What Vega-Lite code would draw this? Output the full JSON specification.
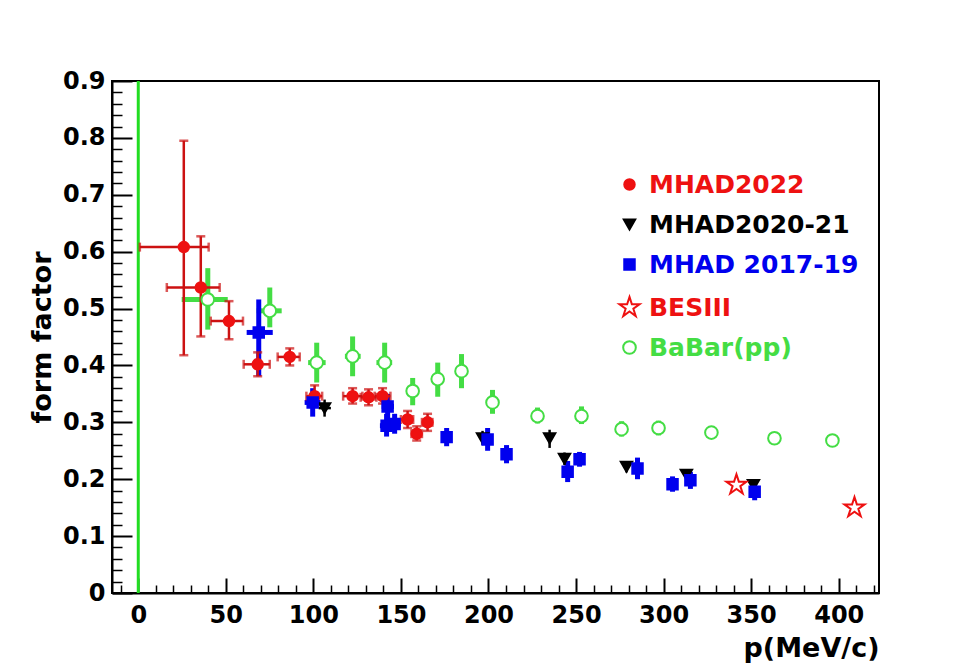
{
  "$schema": "https://vega.github.io/schema/vega-lite/v6.json",
  "width": 767,
  "height": 512,
  "autosize": "none",
  "padding": {"left": 112, "top": 81, "right": 91, "bottom": 75},
  "background": "white",
  "config": {"view": {"stroke": "black", "strokeWidth": 2}},
  "data": {"values": [
    {"s":"BaBar(pp)","p":39.7,"ff":0.516,"plo":24.8,"phi":51.1,"flo":0.463,"fhi":0.571},
    {"s":"BaBar(pp)","p":75.1,"ff":0.496,"plo":67.6,"phi":81.9,"flo":0.467,"fhi":0.537},
    {"s":"BaBar(pp)","p":101.9,"ff":0.405,"plo":97,"phi":107,"flo":0.37,"fhi":0.44},
    {"s":"BaBar(pp)","p":122.4,"ff":0.416,"plo":118,"phi":127,"flo":0.381,"fhi":0.451},
    {"s":"BaBar(pp)","p":140.7,"ff":0.405,"plo":136,"phi":145,"flo":0.37,"fhi":0.44},
    {"s":"BaBar(pp)","p":156.7,"ff":0.355,"flo":0.33,"fhi":0.378},
    {"s":"BaBar(pp)","p":171,"ff":0.376,"flo":0.345,"fhi":0.405},
    {"s":"BaBar(pp)","p":184.6,"ff":0.39,"flo":0.36,"fhi":0.42},
    {"s":"BaBar(pp)","p":202.3,"ff":0.335,"flo":0.315,"fhi":0.357},
    {"s":"BaBar(pp)","p":228,"ff":0.311,"flo":0.298,"fhi":0.326},
    {"s":"BaBar(pp)","p":253.1,"ff":0.311,"flo":0.297,"fhi":0.328},
    {"s":"BaBar(pp)","p":276,"ff":0.288,"flo":0.275,"fhi":0.302},
    {"s":"BaBar(pp)","p":297.1,"ff":0.29,"flo":0.277,"fhi":0.303},
    {"s":"BaBar(pp)","p":327.3,"ff":0.282},
    {"s":"BaBar(pp)","p":363.3,"ff":0.272},
    {"s":"BaBar(pp)","p":396.4,"ff":0.268},
    {"s":"MHAD2022","p":26.0,"ff":0.608,"plo":0.9,"phi":40.2,"flo":0.418,"fhi":0.795},
    {"s":"MHAD2022","p":35.7,"ff":0.537,"plo":16.3,"phi":46.5,"flo":0.451,"fhi":0.627},
    {"s":"MHAD2022","p":51.8,"ff":0.478,"plo":41.4,"phi":59.8,"flo":0.446,"fhi":0.513},
    {"s":"MHAD2022","p":68.2,"ff":0.402,"plo":60.2,"phi":75.1,"flo":0.381,"fhi":0.423},
    {"s":"MHAD2022","p":86.5,"ff":0.415,"plo":79.6,"phi":92.2,"flo":0.4,"fhi":0.43},
    {"s":"MHAD2022","p":100.7,"ff":0.346,"plo":96,"phi":105,"flo":0.33,"fhi":0.365},
    {"s":"MHAD2022","p":122.4,"ff":0.346,"plo":117,"phi":128,"flo":0.333,"fhi":0.36},
    {"s":"MHAD2022","p":131.5,"ff":0.344,"plo":127,"phi":136,"flo":0.33,"fhi":0.358},
    {"s":"MHAD2022","p":139.5,"ff":0.346,"plo":135,"phi":144,"flo":0.333,"fhi":0.36},
    {"s":"MHAD2022","p":153.8,"ff":0.305,"plo":150,"phi":157,"flo":0.29,"fhi":0.32},
    {"s":"MHAD2022","p":159,"ff":0.28,"plo":156,"phi":162,"flo":0.268,"fhi":0.293},
    {"s":"MHAD2022","p":165.2,"ff":0.3,"plo":162,"phi":168,"flo":0.285,"fhi":0.315},
    {"s":"MHAD2020-21","p":106.4,"ff":0.325,"plo":103,"phi":110,"flo":0.31,"fhi":0.34},
    {"s":"MHAD2020-21","p":196.6,"ff":0.272,"flo":0.26,"fhi":0.285},
    {"s":"MHAD2020-21","p":234.9,"ff":0.272,"flo":0.255,"fhi":0.287},
    {"s":"MHAD2020-21","p":243.4,"ff":0.236,"flo":0.225,"fhi":0.247},
    {"s":"MHAD2020-21","p":278.8,"ff":0.222,"flo":0.212,"fhi":0.232},
    {"s":"MHAD2020-21","p":313,"ff":0.208,"flo":0.198,"fhi":0.218},
    {"s":"MHAD2020-21","p":351.3,"ff":0.19,"flo":0.18,"fhi":0.2},
    {"s":"MHAD 2017-19","p":68.8,"ff":0.458,"plo":61.9,"phi":76.8,"flo":0.381,"fhi":0.516},
    {"s":"MHAD 2017-19","p":99.6,"ff":0.335,"plo":95,"phi":104,"flo":0.31,"fhi":0.36},
    {"s":"MHAD 2017-19","p":142.4,"ff":0.328,"plo":139,"phi":146,"flo":0.305,"fhi":0.35},
    {"s":"MHAD 2017-19","p":141.8,"ff":0.294,"plo":138,"phi":146,"flo":0.275,"fhi":0.315},
    {"s":"MHAD 2017-19","p":146.4,"ff":0.297,"plo":143,"phi":150,"flo":0.28,"fhi":0.315},
    {"s":"MHAD 2017-19","p":176.1,"ff":0.274,"flo":0.258,"fhi":0.29},
    {"s":"MHAD 2017-19","p":199.5,"ff":0.27,"flo":0.25,"fhi":0.29},
    {"s":"MHAD 2017-19","p":210.3,"ff":0.244,"flo":0.228,"fhi":0.26},
    {"s":"MHAD 2017-19","p":245.2,"ff":0.213,"flo":0.195,"fhi":0.232},
    {"s":"MHAD 2017-19","p":252,"ff":0.235,"flo":0.222,"fhi":0.248},
    {"s":"MHAD 2017-19","p":285.1,"ff":0.219,"flo":0.2,"fhi":0.238},
    {"s":"MHAD 2017-19","p":305.1,"ff":0.191,"flo":0.178,"fhi":0.205},
    {"s":"MHAD 2017-19","p":315.3,"ff":0.198,"flo":0.183,"fhi":0.213},
    {"s":"MHAD 2017-19","p":352,"ff":0.178,"flo":0.163,"fhi":0.195},
    {"s":"BESIII","p":341.6,"ff":0.19},
    {"s":"BESIII","p":409,"ff":0.15}
  ]},
  "resolve": {"axis": {"x": "independent", "y": "independent"}},
  "layer": [
    {
      "data": {"values": [{}]},
      "mark": {"type": "rule", "color": "#22dd22", "strokeWidth": 3},
      "encoding": {
        "x": {"datum": 0, "type": "quantitative", "scale": {"domain": [-15, 423], "nice": false, "zero": false},
          "axis": {"orient": "bottom", "values": [-10,10,20,30,40,60,70,80,90,110,120,130,140,160,170,180,190,210,220,230,240,260,270,280,290,310,320,330,340,360,370,380,390,410,420],
            "labels": false, "domain": false, "grid": false, "tickSize": -8, "tickWidth": 1.5, "tickColor": "black", "title": null}},
        "y": {"datum": 0, "type": "quantitative", "scale": {"domain": [0, 0.9], "nice": false, "zero": false},
          "axis": {"orient": "left", "values": [0.02,0.04,0.06,0.08,0.12,0.14,0.16,0.18,0.22,0.24,0.26,0.28,0.32,0.34,0.36,0.38,0.42,0.44,0.46,0.48,0.52,0.54,0.56,0.58,0.62,0.64,0.66,0.68,0.72,0.74,0.76,0.78,0.82,0.84,0.86,0.88],
            "labels": false, "domain": false, "grid": false, "tickSize": -10, "tickWidth": 1.5, "tickColor": "black", "title": null}},
        "y2": {"datum": 0.9}
      }
    },
    {
      "transform": [{"filter": "datum.s == 'BaBar(pp)' || datum.s == 'MHAD 2017-19'"}],
      "mark": {"type": "rule", "strokeWidth": 5},
      "encoding": {
        "x": {"field": "plo", "type": "quantitative", "scale": {"domain": [-15, 423], "nice": false, "zero": false},
          "axis": {"orient": "bottom", "values": [0,50,100,150,200,250,300,350,400], "format": "d", "grid": false,
            "tickSize": -15, "tickWidth": 2, "tickColor": "black", "domainColor": "black", "domainWidth": 2,
            "labelFont": "DejaVu Sans", "labelFontSize": 24, "labelFontWeight": "bold", "labelColor": "black", "labelPadding": 25,
            "title": "p(MeV/c)", "titleAnchor": "end", "titleFont": "DejaVu Sans", "titleFontSize": 27, "titleFontWeight": "bold", "titleColor": "black", "titlePadding": 8}},
        "x2": {"field": "phi"},
        "y": {"field": "ff", "type": "quantitative", "scale": {"domain": [0, 0.9], "nice": false, "zero": false},
          "axis": {"orient": "left", "values": [0,0.1,0.2,0.3,0.4,0.5,0.6,0.7,0.8,0.9], "format": ".1~f", "grid": false,
            "tickSize": -20, "tickWidth": 2, "tickColor": "black", "domainColor": "black", "domainWidth": 2,
            "labelFont": "DejaVu Sans", "labelFontSize": 24, "labelFontWeight": "bold", "labelColor": "black", "labelPadding": 27,
            "title": "form factor", "titleFont": "DejaVu Sans", "titleFontSize": 27, "titleFontWeight": "bold", "titleColor": "black", "titlePadding": 6}},
        "color": {"field": "s", "type": "nominal", "legend": null,
          "scale": {"domain": ["BaBar(pp)","MHAD 2017-19","MHAD2022","MHAD2020-21","BESIII"], "range": ["#44dd44","#0000ee","#cc1111","#000000","#cc1111"]}}
      }
    },
    {
      "transform": [{"filter": "datum.s == 'BaBar(pp)' || datum.s == 'MHAD 2017-19'"}],
      "mark": {"type": "rule", "strokeWidth": 5},
      "encoding": {
        "x": {"field": "p", "type": "quantitative", "scale": {"domain": [-15, 423], "nice": false, "zero": false}, "axis": null},
        "y": {"field": "flo", "type": "quantitative", "scale": {"domain": [0, 0.9], "nice": false, "zero": false}, "axis": null},
        "y2": {"field": "fhi"},
        "color": {"field": "s", "type": "nominal", "legend": null,
          "scale": {"domain": ["BaBar(pp)","MHAD 2017-19","MHAD2022","MHAD2020-21","BESIII"], "range": ["#44dd44","#0000ee","#cc1111","#000000","#cc1111"]}}
      }
    },
    {
      "transform": [{"filter": "datum.s == 'MHAD2022' || datum.s == 'MHAD2020-21'"}],
      "mark": {"type": "rule", "strokeWidth": 2.5},
      "encoding": {
        "x": {"field": "plo", "type": "quantitative", "scale": {"domain": [-15, 423], "nice": false, "zero": false}, "axis": null},
        "x2": {"field": "phi"},
        "y": {"field": "ff", "type": "quantitative", "scale": {"domain": [0, 0.9], "nice": false, "zero": false}, "axis": null},
        "color": {"field": "s", "type": "nominal", "legend": null,
          "scale": {"domain": ["BaBar(pp)","MHAD 2017-19","MHAD2022","MHAD2020-21","BESIII"], "range": ["#44dd44","#0000ee","#cc1111","#000000","#cc1111"]}}
      }
    },
    {
      "transform": [{"filter": "datum.s == 'MHAD2022' || datum.s == 'MHAD2020-21'"}],
      "mark": {"type": "rule", "strokeWidth": 2.5},
      "encoding": {
        "x": {"field": "p", "type": "quantitative", "scale": {"domain": [-15, 423], "nice": false, "zero": false}, "axis": null},
        "y": {"field": "flo", "type": "quantitative", "scale": {"domain": [0, 0.9], "nice": false, "zero": false}, "axis": null},
        "y2": {"field": "fhi"},
        "color": {"field": "s", "type": "nominal", "legend": null,
          "scale": {"domain": ["BaBar(pp)","MHAD 2017-19","MHAD2022","MHAD2020-21","BESIII"], "range": ["#44dd44","#0000ee","#cc1111","#000000","#cc1111"]}}
      }
    },
    {
      "transform": [{"filter": "datum.s == 'MHAD2022'"}, {"fold": ["flo", "fhi"], "as": ["k", "v"]}],
      "mark": {"type": "tick", "orient": "horizontal", "color": "#cc1111", "size": 9, "thickness": 2.5},
      "encoding": {
        "x": {"field": "p", "type": "quantitative", "scale": {"domain": [-15, 423], "nice": false, "zero": false}, "axis": null},
        "y": {"field": "v", "type": "quantitative", "scale": {"domain": [0, 0.9], "nice": false, "zero": false}, "axis": null}
      }
    },
    {
      "transform": [{"filter": "datum.s == 'MHAD2022'"}, {"fold": ["plo", "phi"], "as": ["k", "v"]}],
      "mark": {"type": "tick", "orient": "vertical", "color": "#cc1111", "size": 9, "thickness": 2.5},
      "encoding": {
        "x": {"field": "v", "type": "quantitative", "scale": {"domain": [-15, 423], "nice": false, "zero": false}, "axis": null},
        "y": {"field": "ff", "type": "quantitative", "scale": {"domain": [0, 0.9], "nice": false, "zero": false}, "axis": null}
      }
    },
    {
      "mark": {"type": "point", "strokeWidth": 2, "opacity": 1},
      "encoding": {
        "x": {"field": "p", "type": "quantitative", "scale": {"domain": [-15, 423], "nice": false, "zero": false}, "axis": null},
        "y": {"field": "ff", "type": "quantitative", "scale": {"domain": [0, 0.9], "nice": false, "zero": false}, "axis": null},
        "shape": {"field": "s", "type": "nominal",
          "scale": {"domain": ["MHAD2022","MHAD2020-21","MHAD 2017-19","BESIII","BaBar(pp)"],
            "range": ["circle","triangle-down","square","M0,-1L0.2245,-0.309L0.951,-0.309L0.363,0.118L0.588,0.809L0,0.382L-0.588,0.809L-0.363,0.118L-0.951,-0.309L-0.2245,-0.309Z","circle"]},
          "legend": {"title": null, "orient": "none", "legendX": 505, "legendY": 91, "labelFont": "DejaVu Sans", "labelFontSize": 25, "labelFontWeight": "bold",
            "rowPadding": 14, "labelOffset": 7, "symbolStrokeWidth": 2, "labelLimit": 400,
            "labelColor": {"expr": "datum.label == 'MHAD2020-21' ? '#000000' : datum.label == 'MHAD 2017-19' ? '#0000ee' : datum.label == 'BaBar(pp)' ? '#44dd44' : '#ee1111'"}}},
        "fill": {"field": "s", "type": "nominal",
          "scale": {"domain": ["MHAD2022","MHAD2020-21","MHAD 2017-19","BESIII","BaBar(pp)"], "range": ["#ee1111","#000000","#0000ee","#ffffff","#ffffff"]}},
        "stroke": {"field": "s", "type": "nominal",
          "scale": {"domain": ["MHAD2022","MHAD2020-21","MHAD 2017-19","BESIII","BaBar(pp)"], "range": ["#ee1111","#000000","#0000ee","#ee1111","#44dd44"]}},
        "size": {"field": "s", "type": "nominal",
          "scale": {"type": "ordinal", "domain": ["MHAD2022","MHAD2020-21","MHAD 2017-19","BESIII","BaBar(pp)"], "range": [110, 130, 110, 450, 160]}}
      }
    }
  ]
}
